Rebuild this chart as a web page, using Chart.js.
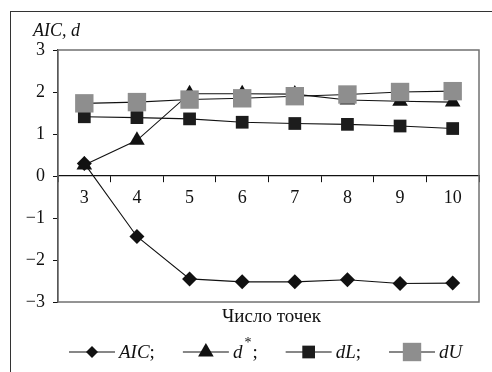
<!DOCTYPE html>
<html>
<head>
<meta charset="utf-8">
<script src="https://cdn.jsdelivr.net/npm/chart.js@4.4.1/dist/chart.umd.min.js"></script>
<style>
  body { margin: 0; background: #fff; }
  #wrap { position: relative; width: 492px; height: 372px; overflow: hidden; }
  #frame { position: absolute; left: 10px; top: 11px; width: 600px; height: 600px;
           border-left: 1.5px solid #333; border-top: 1.5px solid #333; }
  #chart { position: absolute; left: 0; top: 0; }
</style>
</head>
<body>
<div id="wrap">
  <div id="frame"></div>
  <canvas id="chart" width="492" height="372"></canvas>
</div>
<script>
const points = ['3', '4', '5', '6', '7', '8', '9', '10'];
const aic   = [0.30, -1.44, -2.45, -2.52, -2.52, -2.47, -2.56, -2.55];
const dStar = [0.26, 0.85, 1.96, 1.96, 1.95, 1.81, 1.78, 1.76];
const dL    = [1.41, 1.39, 1.36, 1.28, 1.25, 1.23, 1.19, 1.13];
const dU    = [1.73, 1.76, 1.82, 1.85, 1.90, 1.94, 2.00, 2.02];
const yTicks = [-3, -2, -1, 0, 1, 2, 3];

const serif = '"Liberation Serif", "Times New Roman", serif';
const ink = '#111';

function series(label, data, style, radius, color, order) {
  return {
    label: label,
    data: data,
    borderColor: ink,
    borderWidth: 1.1,
    pointStyle: style,
    pointRadius: radius,
    pointHoverRadius: radius,
    pointBackgroundColor: color,
    pointBorderColor: color,
    pointBorderWidth: 0,
    tension: 0,
    order: order
  };
}

// frame of the plot, captions and the line+marker legend underneath
const extras = {
  id: 'extras',
  beforeDatasetsDraw(chart) {
    const ctx = chart.ctx, a = chart.chartArea;
    ctx.save();
    ctx.strokeStyle = '#707070';
    ctx.lineWidth = 1.5;
    ctx.strokeRect(a.left, a.top, a.right - a.left, a.bottom - a.top);
    ctx.restore();
  },
  afterDraw(chart) {
    const ctx = chart.ctx, a = chart.chartArea;
    ctx.save();
    ctx.fillStyle = ink;
    ctx.textBaseline = 'alphabetic';

    ctx.font = 'italic 18px ' + serif;
    ctx.textAlign = 'left';
    ctx.fillText('AIC, d', 33, 36);

    ctx.font = '19px ' + serif;
    ctx.textAlign = 'center';
    ctx.fillText('Число точек', (a.left + a.right) / 2 + 3, 322);

    // legend
    const y = 352;
    let x = 69;
    const sets = chart.data.datasets;
    ctx.textAlign = 'left';
    sets.forEach((ds, i) => {
      ctx.strokeStyle = ink;
      ctx.lineWidth = 1.1;
      ctx.beginPath();
      ctx.moveTo(x, y);
      ctx.lineTo(x + 46, y);
      ctx.stroke();
      ctx.fillStyle = ds.pointBackgroundColor;
      Chart.helpers.drawPoint(ctx, {
        pointStyle: ds.pointStyle,
        radius: ds.pointStyle === 'rectRot' ? 6 : ds.pointRadius,
        borderWidth: 0
      }, x + 23, y);
      ctx.fillStyle = ink;
      let tx = x + 50;
      const sep = i < sets.length - 1 ? ';' : '';
      const base = y + 6;
      if (ds.label.endsWith('*')) {
        const main = ds.label.slice(0, -1);
        ctx.font = 'italic 19px ' + serif;
        ctx.fillText(main, tx, base);
        tx += ctx.measureText(main).width + 2;
        ctx.font = '14px ' + serif;
        ctx.fillText('*', tx, base - 11);
        tx += ctx.measureText('*').width + 1;
        ctx.font = '19px ' + serif;
        ctx.fillText(sep, tx, base);
        tx += ctx.measureText(sep).width;
      } else {
        ctx.font = 'italic 19px ' + serif;
        ctx.fillText(ds.label, tx, base);
        tx += ctx.measureText(ds.label).width;
        ctx.font = '19px ' + serif;
        ctx.fillText(sep, tx, base);
        tx += ctx.measureText(sep).width;
      }
      x = tx + 28;
    });
    ctx.restore();
  }
};

new Chart(document.getElementById('chart'), {
  type: 'line',
  data: {
    labels: points,
    datasets: [
      series('AIC', aic, 'rectRot', 7.5, '#111', 3),
      series('d*', dStar, 'triangle', 9, '#111', 2),
      series('dL', dL, 'rect', 9, '#1c1c1c', 1),
      series('dU', dU, 'rect', 13, '#8e8e8e', 0)
    ]
  },
  options: {
    responsive: false,
    animation: false,
    events: [],
    layout: { padding: { left: 0, top: 50, right: 11, bottom: 70 } },
    plugins: {
      legend: { display: false },
      title: { display: false },
      tooltip: { enabled: false }
    },
    scales: {
      x: {
        type: 'category',
        position: { y: 0 },
        offset: true,
        grid: { offset: true, drawOnChartArea: false, tickLength: 6, color: ink, lineWidth: 1 },
        border: { color: ink, width: 1.2 },
        ticks: { color: ink, font: { family: serif, size: 18 }, padding: 5, maxRotation: 0 }
      },
      y: {
        min: -3,
        max: 3,
        afterFit(scale) { scale.width = 58; },
        afterBuildTicks(scale) { scale.ticks = yTicks.map(v => ({ value: v })); },
        grid: { drawOnChartArea: false, tickLength: 5, color: ink, lineWidth: 1 },
        border: { color: ink, width: 1.2 },
        ticks: {
          color: ink,
          padding: 8,
          font: { family: serif, size: 18 },
          callback: v => String(v).replace('-', '\u2212')
        }
      }
    }
  },
  plugins: [extras]
});
</script>
</body>
</html>
